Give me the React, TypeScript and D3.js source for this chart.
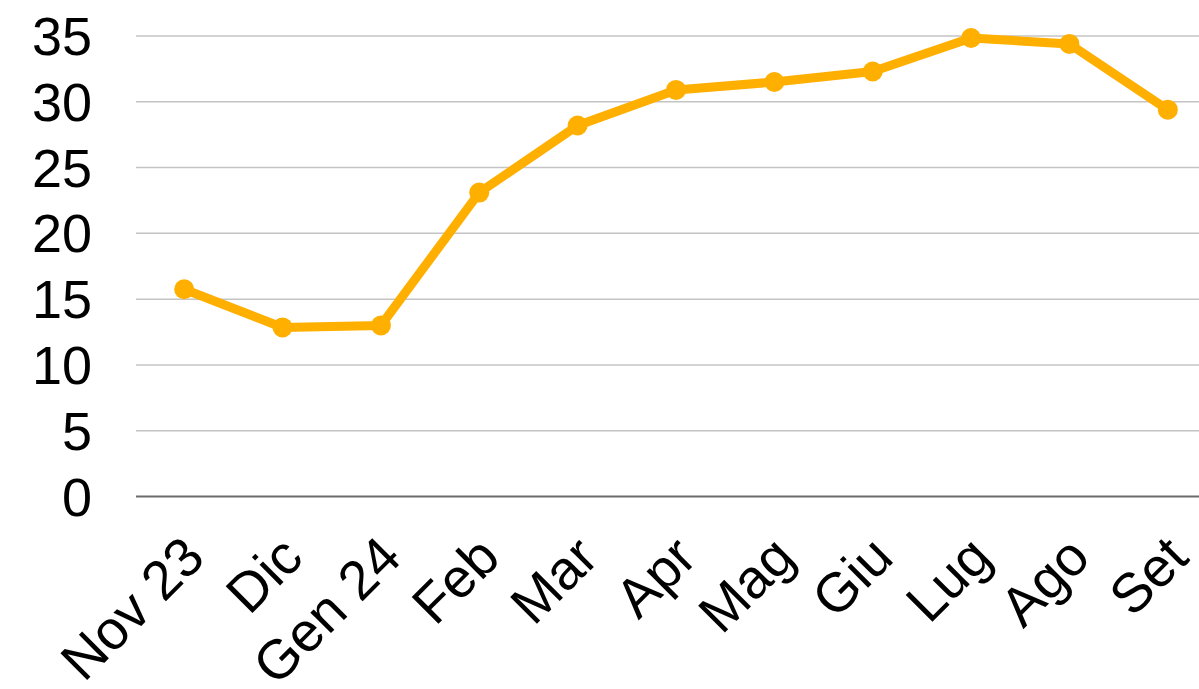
import React, { useEffect, useRef } from "react";
import * as d3 from "d3";

const months = ["Nov 23", "Dic", "Gen 24", "Feb", "Mar", "Apr", "Mag", "Giu", "Lug", "Ago", "Set"];
const values = [15.75, 12.85, 13.0, 23.1, 28.2, 30.9, 31.5, 32.3, 34.85, 34.4, 29.4];
const yTicks = [0, 5, 10, 15, 20, 25, 30, 35];

const W = 1199;
const H = 689;

export default function App() {
  const ref = useRef<SVGSVGElement>(null);

  useEffect(() => {
    const svg = d3.select(ref.current);
    svg.selectAll("*").remove();

    const x = d3.scaleBand<string>().domain(months).range([135, 1217]);
    const y = d3.scaleLinear().domain([0, 35]).range([496.5, 36]);
    const font = "'Liberation Sans', Arial, sans-serif";

    // gridlines
    svg
      .append("g")
      .selectAll("line")
      .data(yTicks)
      .enter()
      .append("line")
      .attr("x1", 136)
      .attr("x2", W)
      .attr("y1", d => y(d))
      .attr("y2", d => y(d))
      .attr("stroke", d => (d === 0 ? "#6b6b6b" : "#c4c4c4"))
      .attr("stroke-width", d => (d === 0 ? 2 : 1.5));

    // y labels
    svg
      .append("g")
      .selectAll("text")
      .data(yTicks)
      .enter()
      .append("text")
      .text(d => d)
      .attr("x", 92)
      .attr("y", d => y(d) + 19)
      .attr("text-anchor", "end")
      .attr("font-family", font)
      .attr("font-size", 54)
      .attr("fill", "#000");

    // x labels
    svg
      .append("g")
      .selectAll("text")
      .data(months)
      .enter()
      .append("text")
      .text(d => d)
      .attr("text-anchor", "end")
      .attr("font-family", font)
      .attr("font-size", 55)
      .attr("fill", "#000")
      .attr("transform", d => {
        const cx = (x(d) as number) + x.bandwidth() / 2 + 23;
        return "translate(" + cx + ",560) rotate(-45)";
      });

    const cx = (d: string) => (x(d) as number) + x.bandwidth() / 2;

    const line = d3
      .line<number>()
      .x((_, i) => cx(months[i]))
      .y(d => y(d));

    svg
      .append("path")
      .datum(values)
      .attr("d", line)
      .attr("fill", "none")
      .attr("stroke", "#FFAF00")
      .attr("stroke-width", 9)
      .attr("stroke-linejoin", "round");

    svg
      .append("g")
      .selectAll("circle")
      .data(values)
      .enter()
      .append("circle")
      .attr("cx", (_, i) => cx(months[i]))
      .attr("cy", d => y(d))
      .attr("r", 10)
      .attr("fill", "#FFAF00");
  }, []);

  return (
    <svg
      ref={ref}
      width={W}
      height={H}
      style={{ position: "absolute", left: 0, top: 0, background: "#fff" }}
    />
  );
}
